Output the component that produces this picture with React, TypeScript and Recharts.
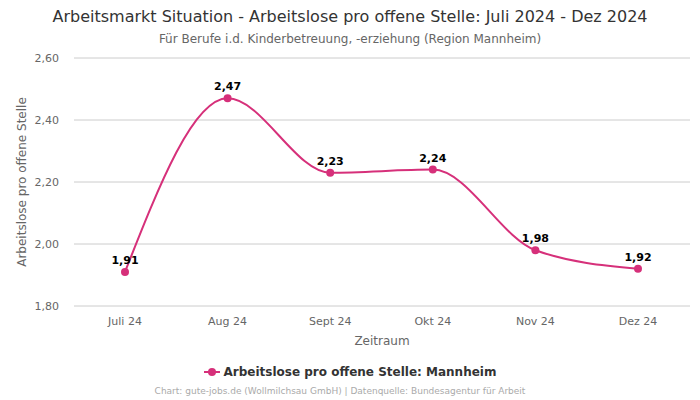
import React from 'react';
import { LineChart, Line, XAxis, YAxis, CartesianGrid, Legend, LabelList } from 'recharts';

const months = ['Juli 24', 'Aug 24', 'Sept 24', 'Okt 24', 'Nov 24', 'Dez 24'];
const values = [1.91, 2.47, 2.23, 2.24, 1.98, 1.92];
const yTicks = [1.8, 2.0, 2.2, 2.4, 2.6];

const seriesName = 'Arbeitslose pro offene Stelle: Mannheim';
const color = '#d6307a';
const data = months.map((m, i) => ({ month: m, value: values[i] }));

const fmt = (v: number) => v.toFixed(2).replace('.', ',');
const font = '"DejaVu Sans", sans-serif';

const LegendContent = () => (
  <div style={{ display: 'flex', justifyContent: 'center', alignItems: 'center', fontFamily: font }}>
    <svg width={16} height={10} style={{ marginRight: 4 }}>
      <line x1={0} y1={5} x2={16} y2={5} stroke={color} strokeWidth={2} />
      <circle cx={8} cy={5} r={4} fill={color} />
    </svg>
    <span style={{ fontWeight: 'bold', fontSize: 12, color: '#333' }}>{seriesName}</span>
  </div>
);

export default function App() {
  return (
    <div style={{ position: 'absolute', left: 0, top: 0, width: 700, height: 400, background: '#fff' }}>
      <div style={{ position: 'absolute', top: 7, left: 0, width: 700, textAlign: 'center', fontFamily: font, fontSize: 16, color: '#333' }}>
        Arbeitsmarkt Situation - Arbeitslose pro offene Stelle: Juli 2024 - Dez 2024
      </div>
      <div style={{ position: 'absolute', top: 32, left: 0, width: 700, textAlign: 'center', fontFamily: font, fontSize: 12, color: '#666' }}>
        Für Berufe i.d. Kinderbetreuung, -erziehung (Region Mannheim)
      </div>
      <LineChart width={700} height={400} data={data} margin={{ top: 58, right: 10, bottom: 30, left: 0 }}>
        <CartesianGrid vertical={false} stroke="#ccc" />
        <XAxis
          dataKey="month"
          axisLine={false}
          tickLine={false}
          padding={{ left: 51, right: 52 }}
          tick={{ fontSize: 11, fill: '#666', fontFamily: font }}
          tickMargin={5}
          height={50}
          label={{ value: 'Zeitraum', position: 'insideBottom', offset: 11, style: { fontSize: 12, fill: '#666', fontFamily: font } }}
        />
        <YAxis
          domain={[1.8, 2.6]}
          ticks={yTicks}
          axisLine={false}
          tickLine={false}
          width={74}
          tickMargin={9}
          tickFormatter={fmt}
          tick={{ fontSize: 11, fill: '#666', fontFamily: font }}
          label={{ value: 'Arbeitslose pro offene Stelle', angle: -90, position: 'center', dx: -15, style: { fontSize: 12, fill: '#666', fontFamily: font, textAnchor: 'middle' } }}
        />
        <Legend verticalAlign="bottom" content={<LegendContent />} wrapperStyle={{ position: 'absolute', top: 365, left: 0, width: 700 }} />
        <Line
          type="monotone"
          dataKey="value"
          name={seriesName}
          stroke={color}
          strokeWidth={2}
          dot={{ r: 4, fill: color, stroke: color, strokeWidth: 0 }}
          activeDot={false}
          isAnimationActive={false}
        >
          <LabelList dataKey="value" position="top" offset={8} formatter={(v: number) => fmt(v)} style={{ fontSize: 11, fontWeight: 'bold', fill: '#000', fontFamily: font }} />
        </Line>
      </LineChart>
      <div style={{ position: 'absolute', top: 386, left: 0, width: 680, textAlign: 'center', fontFamily: font, fontSize: 9, color: '#aaa' }}>
        Chart: gute-jobs.de (Wollmilchsau GmbH) | Datenquelle: Bundesagentur für Arbeit
      </div>
    </div>
  );
}
